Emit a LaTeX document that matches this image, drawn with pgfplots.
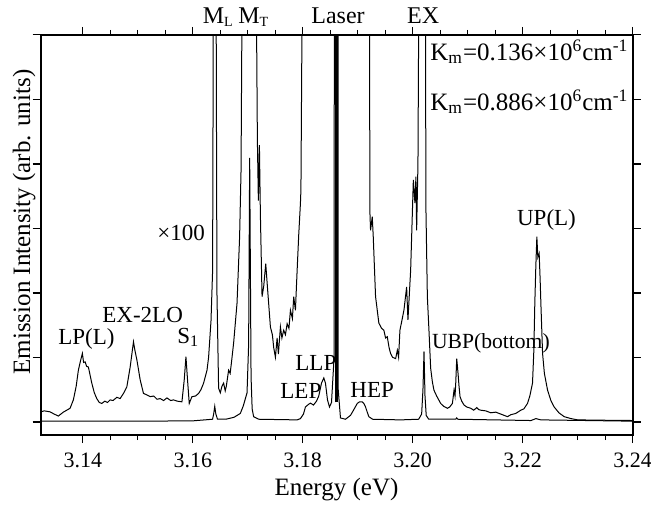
\documentclass[border=0pt]{standalone}
\usepackage{fontspec}
\setmainfont{Liberation Serif}
\usepackage{pgfplots}
\pgfplotsset{compat=1.18}

\begin{document}
\begin{tikzpicture}
\begin{axis}[
  scale only axis,
  width=296pt, height=200.15pt,
  xmin=3.13235, xmax=3.24,
  ymin=-0.206, ymax=6,
  clip=true,
  axis line style={line width=0.8pt},
  tick style={line width=0.7pt, black},
  major tick length=4pt,
  minor tick length=2.5pt,
  tick align=outside,
  xtick={3.14,3.16,3.18,3.20,3.22,3.24},
  minor x tick num=3,
  xtick pos=both,
  ytick={0,1,2,3,4,5,6},
  yticklabels={},
  ytick pos=both,
  xticklabel pos=lower,
  /pgf/number format/.cd, fixed, fixed zerofill, precision=2, assume math mode=true,
  /pgfplots/.cd,
  ticklabel style={font=\fontsize{11}{13}\selectfont},
  xticklabel style={yshift=-1.5pt},
]
% x100 spectrum
\addplot[black, line width=0.5pt] coordinates {
(3.13235,0.155) (3.13300,0.17) (3.13404,0.155) (3.13480,0.12) (3.13556,0.09) (3.13647,0.15) (3.13769,0.21)
(3.13829,0.34) (3.13880,0.55) (3.13920,0.80) (3.13960,0.95) (3.13993,1.06) (3.14015,0.92)
(3.14042,0.93) (3.14070,0.86) (3.14102,0.85) (3.14164,0.60) (3.14210,0.45) (3.14255,0.36)
(3.14300,0.30) (3.14346,0.285) (3.14400,0.32) (3.14450,0.30) (3.14497,0.34) (3.14550,0.33)
(3.14620,0.38) (3.14679,0.36) (3.14740,0.44) (3.14801,0.54) (3.14862,0.85) (3.14922,1.24)
(3.14950,1.10) (3.14984,0.96) (3.15044,0.65) (3.15104,0.44) (3.15160,0.42) (3.15226,0.39)
(3.15290,0.40) (3.15350,0.35) (3.15408,0.36) (3.15470,0.33) (3.15530,0.37) (3.15600,0.33)
(3.15650,0.34) (3.15720,0.32) (3.15803,0.31) (3.15845,0.65) (3.15876,1.01) (3.15905,0.65)
(3.15936,0.285) (3.15985,0.39) (3.16050,0.40) (3.16106,0.44) (3.16150,0.50) (3.16197,0.60)
(3.16259,0.80) (3.16288,1.00) (3.16332,1.57) (3.16361,2.35) (3.16379,8) (3.16400,12)
(3.16420,8) (3.16440,2.0) (3.16470,0.52) (3.16501,0.45) (3.16530,0.55) (3.16561,0.60)
(3.16590,0.48) (3.16610,0.55) (3.16652,0.80) (3.16680,0.75) (3.16701,0.90) (3.16743,1.22)
(3.16805,1.84) (3.16852,2.87) (3.16878,3.9) (3.16896,6.5) (3.17000,40) (3.17100,30)
(3.17157,6.5) (3.17175,4.37) (3.17193,3.43) (3.17212,4.29) (3.17230,3.20) (3.17260,1.94)
(3.17290,2.10) (3.17327,2.45) (3.17357,2.10) (3.17412,1.47) (3.17448,1.35) (3.17472,1.15)
(3.17503,1.00) (3.17534,1.30) (3.17557,1.05) (3.17594,1.47) (3.17621,1.30) (3.17654,1.42)
(3.17685,1.35) (3.17716,1.52) (3.17749,1.45) (3.17776,1.73) (3.17812,1.60) (3.17836,1.94)
(3.17867,1.73) (3.17898,2.35) (3.17927,2.90) (3.17958,3.39) (3.17967,3.60) (3.17989,6.5)
(3.18100,30) (3.18600,40) (3.19000,30) (3.19215,7) (3.19220,3.28) (3.19233,2.97)
(3.19264,3.18) (3.19282,2.87) (3.19324,1.94) (3.19384,1.53) (3.19433,1.45) (3.19475,1.42)
(3.19506,1.30) (3.19537,1.32) (3.19570,1.15) (3.19597,1.06) (3.19634,1.00) (3.19689,0.98)
(3.19720,1.11) (3.19743,1.00) (3.19767,1.42) (3.19798,1.55) (3.19840,1.73) (3.19889,2.09)
(3.19913,1.58) (3.19962,2.35) (3.20011,3.75) (3.20040,3.39) (3.20058,3.80) (3.20071,2.97)
(3.20095,4.00) (3.20113,7) (3.20150,30) (3.20200,30) (3.20230,7) (3.20240,3.30)
(3.20266,1.94) (3.20295,1.42) (3.20326,0.83) (3.20357,0.62) (3.20386,0.49) (3.20435,0.40)
(3.20508,0.285) (3.20563,0.24) (3.20630,0.21) (3.20672,0.23) (3.20721,0.285) (3.20751,0.49)
(3.20769,0.40) (3.20782,0.60) (3.20800,0.98) (3.20824,0.75) (3.20842,0.55) (3.20860,0.39)
(3.20891,0.32) (3.20933,0.26) (3.20982,0.23) (3.21055,0.21) (3.21109,0.18) (3.21164,0.22)
(3.21200,0.19) (3.21237,0.18) (3.21328,0.17) (3.21419,0.14) (3.21510,0.15) (3.21601,0.12)
(3.21723,0.08) (3.21783,0.11) (3.21874,0.13) (3.21965,0.18) (3.22020,0.20) (3.22087,0.285)
(3.22129,0.40) (3.22178,0.60) (3.22202,1.10) (3.22220,1.84) (3.22238,2.40) (3.22257,2.87)
(3.22275,2.55) (3.22299,2.61) (3.22317,2.20) (3.22330,1.84) (3.22361,1.06) (3.22394,0.75)
(3.22452,0.49) (3.22512,0.33) (3.22572,0.23) (3.22658,0.14) (3.22754,0.08) (3.22877,0.05)
(3.22999,0.03) (3.23423,0.025) (3.24018,0.02)
};
% x1 spectrum
\addplot[black, line width=0.5pt] coordinates {
(3.13235,0.01) (3.15000,0.01) (3.16000,0.015) (3.16360,0.04) (3.16380,0.12) (3.16400,0.24)
(3.16420,0.12) (3.16450,0.04) (3.16600,0.04) (3.16750,0.07) (3.16865,0.13) (3.16920,0.25)
(3.16987,0.45) (3.17016,1.2) (3.17035,4.09) (3.17060,0.7) (3.17080,0.2) (3.17107,0.08)
(3.17200,0.04) (3.17900,0.03) (3.17958,0.05) (3.18013,0.12) (3.18049,0.23) (3.18104,0.27)
(3.18140,0.29) (3.18195,0.26) (3.18250,0.32) (3.18291,0.40) (3.18341,0.60) (3.18383,0.68)
(3.18413,0.60) (3.18450,0.34) (3.18486,0.23) (3.18523,0.30) (3.18570,1.0) (3.18598,40)
(3.18632,40) (3.18645,0.5) (3.18686,0.06) (3.18777,0.04) (3.18868,0.10) (3.18923,0.18)
(3.18991,0.285) (3.19033,0.31) (3.19082,0.31) (3.19115,0.28) (3.19142,0.23) (3.19173,0.15)
(3.19202,0.08) (3.19270,0.04) (3.19780,0.03) (3.20107,0.04) (3.20162,0.12) (3.20186,0.5)
(3.20205,1.09) (3.20223,0.4) (3.20245,0.10) (3.20290,0.04) (3.20780,0.04) (3.20800,0.06)
(3.20820,0.04) (3.22150,0.02) (3.22240,0.05) (3.22330,0.03) (3.24018,0.01)
};
% laser line
\addplot[black, line width=1.4pt] coordinates {(3.18615,0.3) (3.18615,8)};
\end{axis}
\begin{scope}[font=\fontsize{11.5}{13}\selectfont]
\node[anchor=base west, inner sep=0pt, font=\fontsize{12}{14}\selectfont] at (80.9pt,206pt) {M\textsubscript{\scriptsize L}};
\node[anchor=base west, inner sep=0pt, font=\fontsize{12}{14}\selectfont] at (98.65pt,206pt) {M\textsubscript{\scriptsize T}};
\node[anchor=base west, inner sep=0pt, font=\fontsize{12}{14}\selectfont] at (135.15pt,206pt) {Laser};
\node[anchor=base west, inner sep=0pt, font=\fontsize{12}{14}\selectfont] at (183pt,206pt) {EX};
\node[anchor=base west, inner sep=0pt, font=\fontsize{12.5}{14}\selectfont] at (194.65pt,187.5pt) {K\textsubscript{m}=0.136×10\textsuperscript{6}cm\textsuperscript{-1}};
\node[anchor=base west, inner sep=0pt, font=\fontsize{12.5}{14}\selectfont] at (194.65pt,162.5pt) {K\textsubscript{m}=0.886×10\textsuperscript{6}cm\textsuperscript{-1}};
\node[anchor=base west, inner sep=0pt] at (58.15pt,97.5pt) {×100};
\node[anchor=base west, inner sep=0pt] at (8.65pt,45.5pt) {LP(L)};
\node[anchor=base west, inner sep=0pt] at (30.65pt,56.5pt) {EX-2LO};
\node[anchor=base west, inner sep=0pt] at (68.15pt,46pt) {S\textsubscript{1}};
\node[anchor=base west, inner sep=0pt] at (127.15pt,32.5pt) {LLP};
\node[anchor=base west, inner sep=0pt] at (119.65pt,18.5pt) {LEP};
\node[anchor=base west, inner sep=0pt] at (154.65pt,19pt) {HEP};
\node[anchor=base west, inner sep=0pt, font=\fontsize{10.8}{13}\selectfont] at (195.5pt,43.5pt) {UBP(bottom)};
\node[anchor=base west, inner sep=0pt] at (238pt,105pt) {UP(L)};
\end{scope}
\node[anchor=base, inner sep=0pt, font=\fontsize{12.5}{14}\selectfont] at (147.9pt,-30pt) {Energy (eV)};
\node[anchor=base, inner sep=0pt, rotate=90, font=\fontsize{12.5}{14}\selectfont] at (-5.35pt,106.5pt) {Emission Intensity (arb. units)};
\pgfresetboundingbox
\path[use as bounding box] (-20.35pt,-34.5pt) rectangle (305.15pt,217.55pt);
\end{tikzpicture}
\end{document}
